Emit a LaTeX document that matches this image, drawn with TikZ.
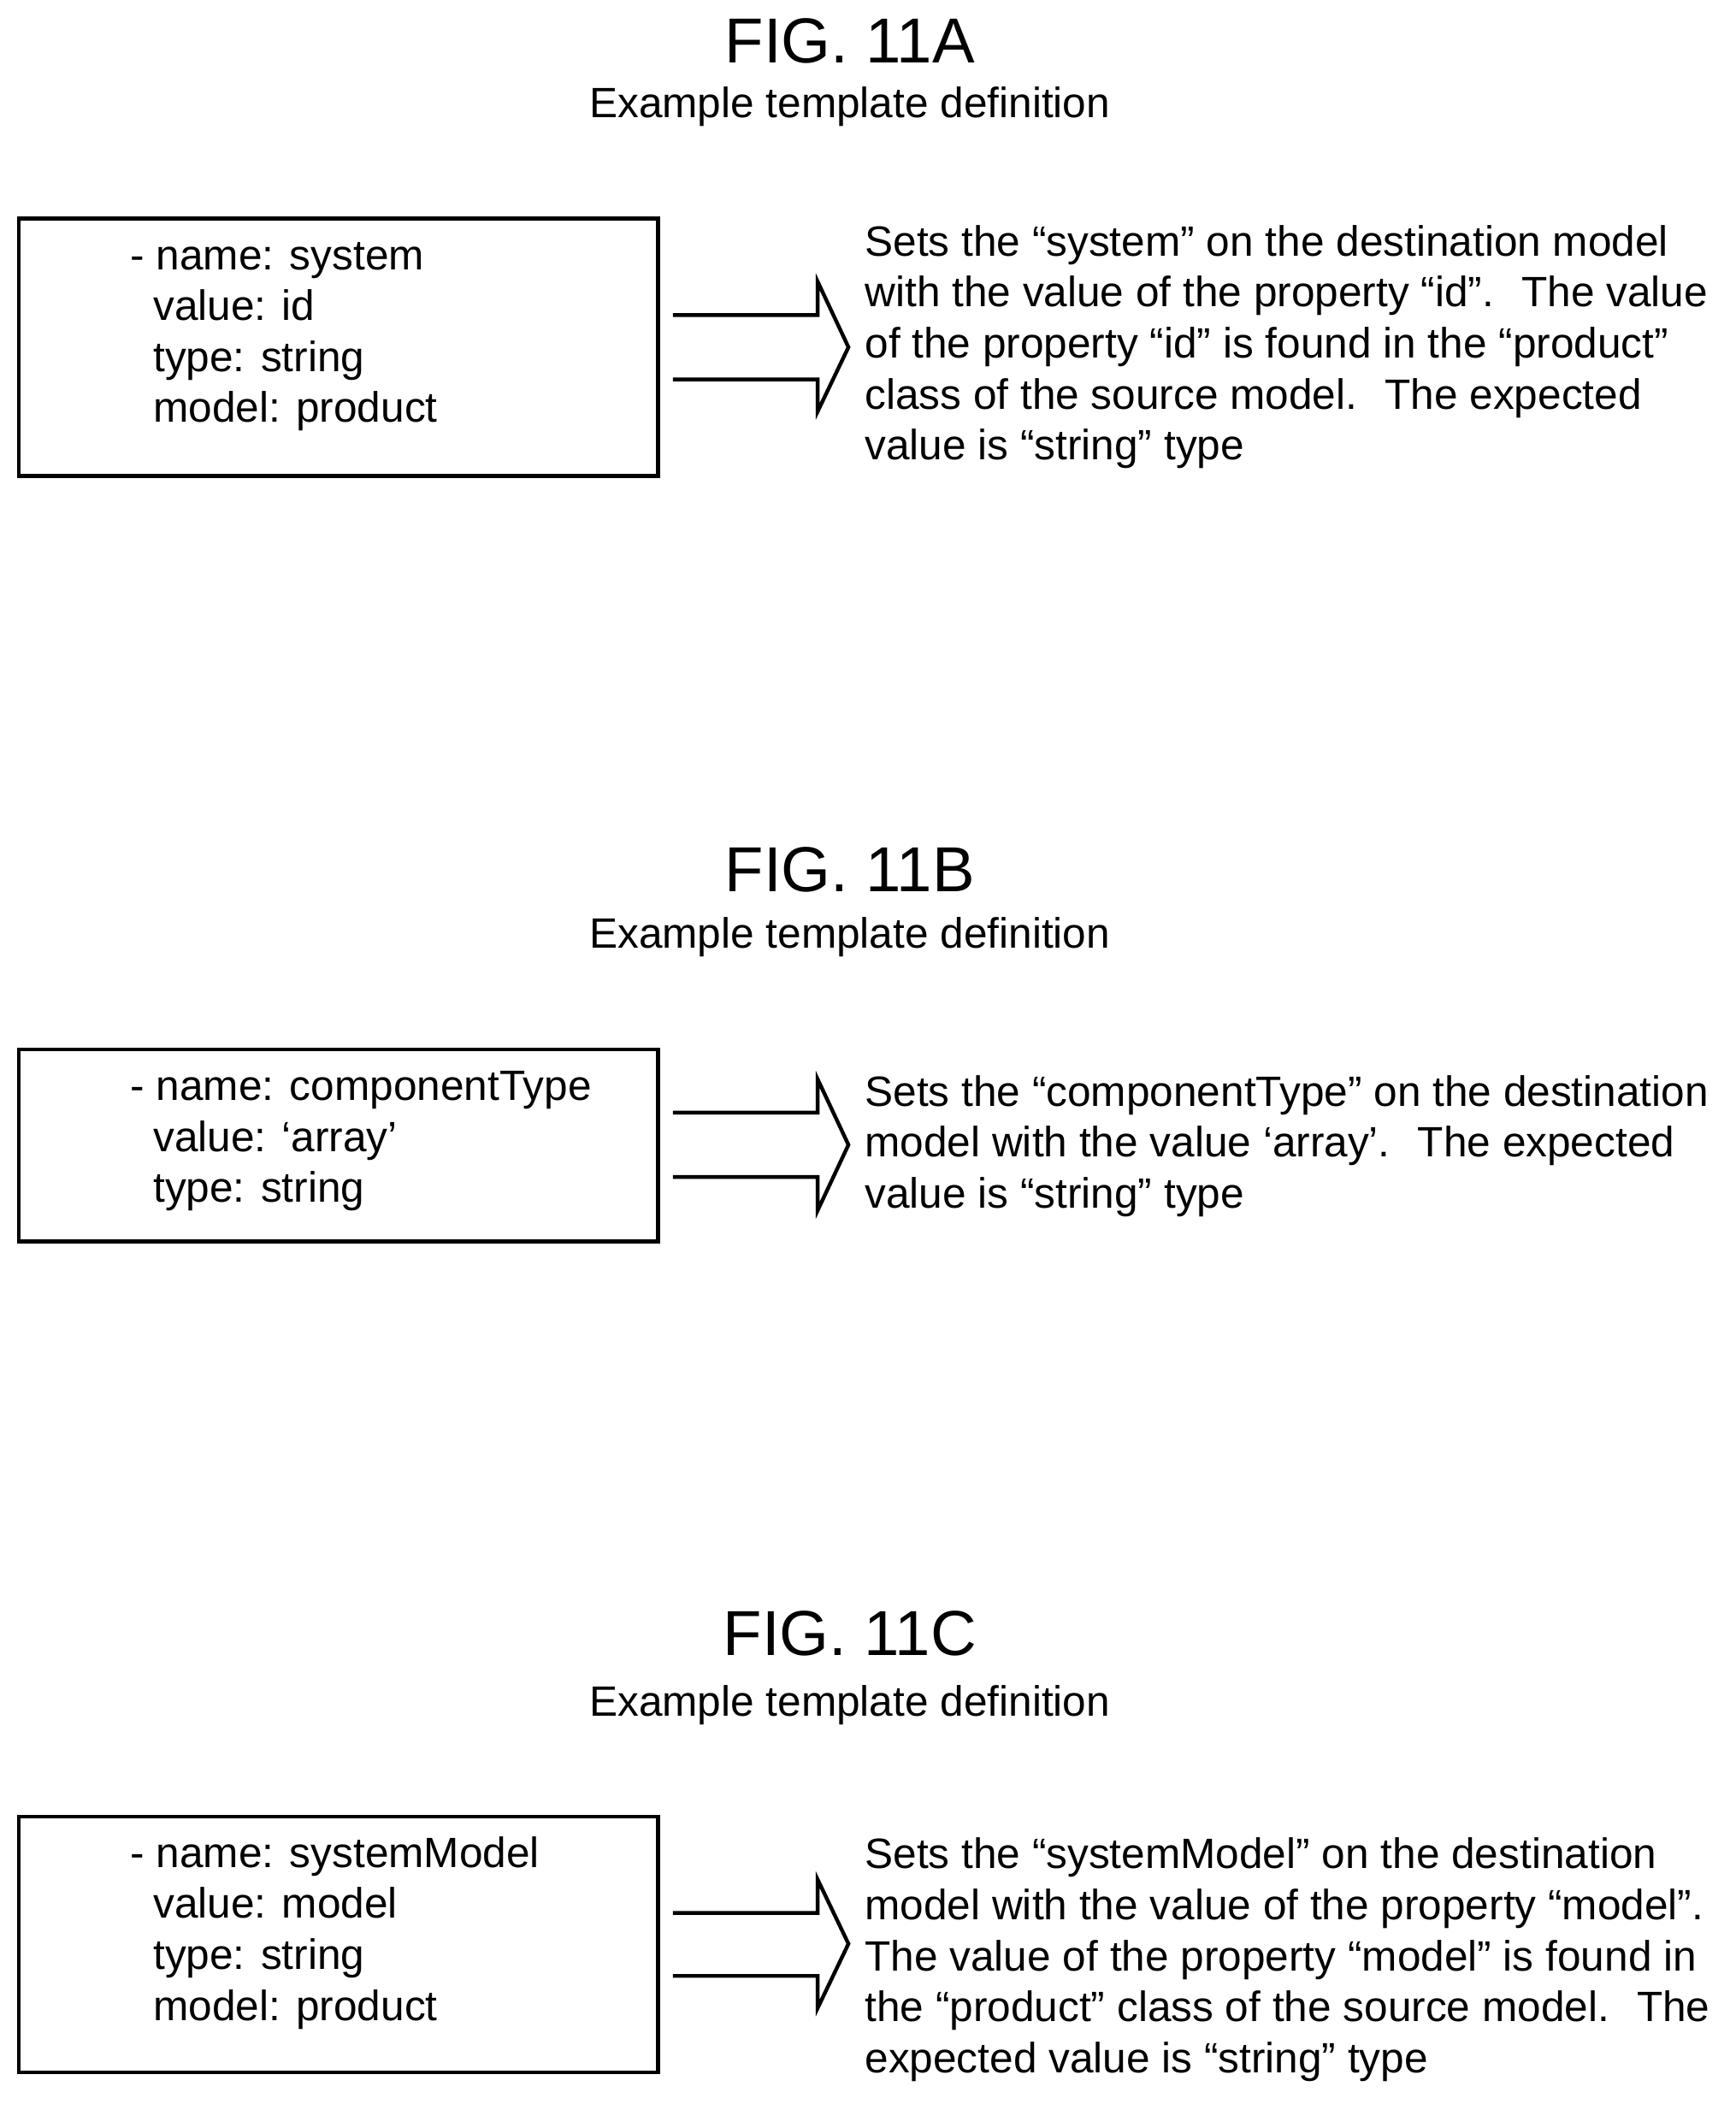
\documentclass[tikz,border=0pt]{standalone}
\usepackage{fontspec}
\setmainfont{Liberation Sans}
\begin{document}
\begin{tikzpicture}[x=0.02cm,y=-0.02cm]
\tikzset{
  txt/.style={anchor=base west,inner sep=0pt,font=\fontsize{18}{21.6}\selectfont},
  ttl/.style={anchor=base,inner sep=0pt,font=\fontsize{27}{32}\selectfont},
  sub/.style={anchor=base,inner sep=0pt,font=\fontsize{18}{21.6}\selectfont},
  tbox/.style={draw,line width=1.6pt},
  blk/.style={line width=1.6pt,line join=miter}
}
\useasboundingbox (0,0) rectangle (1295,1574);
%FIG 11A
\node[ttl] (ta) at (634,47) {FIG. 11A};
\node[sub] (sa) at (634,88) {Example template definition};
\draw[tbox] (14,163) rectangle (491,355);
\node[txt] (a1) at (97,201) {- name: system};
\node[txt] (a2) at (114,239) {value: id};
\node[txt] (a3) at (114,277) {type: string};
\node[txt] (a4) at (114,315) {model: product};
\draw[blk] (502,235) -- (610,235) -- (610,210) -- (633,259) -- (610,307) -- (610,283) -- (502,283);
\node[txt] (da1) at (645,191) {Sets the “system” on the destination model};
\node[txt] (da2) at (645,229) {with the value of the property “id”.~ The value};
\node[txt] (da3) at (645,267) {of the property “id” is found in the “product”};
\node[txt] (da4) at (645,305) {class of the source model.~ The expected};
\node[txt] (da5) at (645,343) {value is “string” type};
%FIG 11B
\node[ttl] (tb) at (634,665) {FIG. 11B};
\node[sub] (sb) at (634,707) {Example template definition};
\draw[tbox] (14,783) rectangle (491,926);
\node[txt] (b1) at (97,821) {- name: componentType};
\node[txt] (b2) at (114,859) {value: ‘array’};
\node[txt] (b3) at (114,897) {type: string};
\draw[blk] (502,830) -- (610,830) -- (610,805) -- (633,854) -- (610,903) -- (610,878) -- (502,878);
\node[txt] (db1) at (645,825) {Sets the “componentType” on the destination};
\node[txt] (db2) at (645,863) {model with the value ‘array’.~ The expected};
\node[txt] (db3) at (645,901) {value is “string” type};
%FIG 11C
\node[ttl] (tc) at (634,1235) {FIG. 11C};
\node[sub] (sc) at (634,1280) {Example template definition};
\draw[tbox] (14,1355) rectangle (491,1546);
\node[txt] (c1) at (97,1393) {- name: systemModel};
\node[txt] (c2) at (114,1431) {value: model};
\node[txt] (c3) at (114,1469) {type: string};
\node[txt] (c4) at (114,1507) {model: product};
\draw[blk] (502,1427) -- (610,1427) -- (610,1402) -- (633,1450) -- (610,1498) -- (610,1474) -- (502,1474);
\node[txt] (dc1) at (645,1394) {Sets the “systemModel” on the destination};
\node[txt] (dc2) at (645,1432) {model with the value of the property “model”.};
\node[txt] (dc3) at (645,1470) {The value of the property “model” is found in};
\node[txt] (dc4) at (645,1508) {the “product” class of the source model.~ The};
\node[txt] (dc5) at (645,1546) {expected value is “string” type};
\end{tikzpicture}
\end{document}
